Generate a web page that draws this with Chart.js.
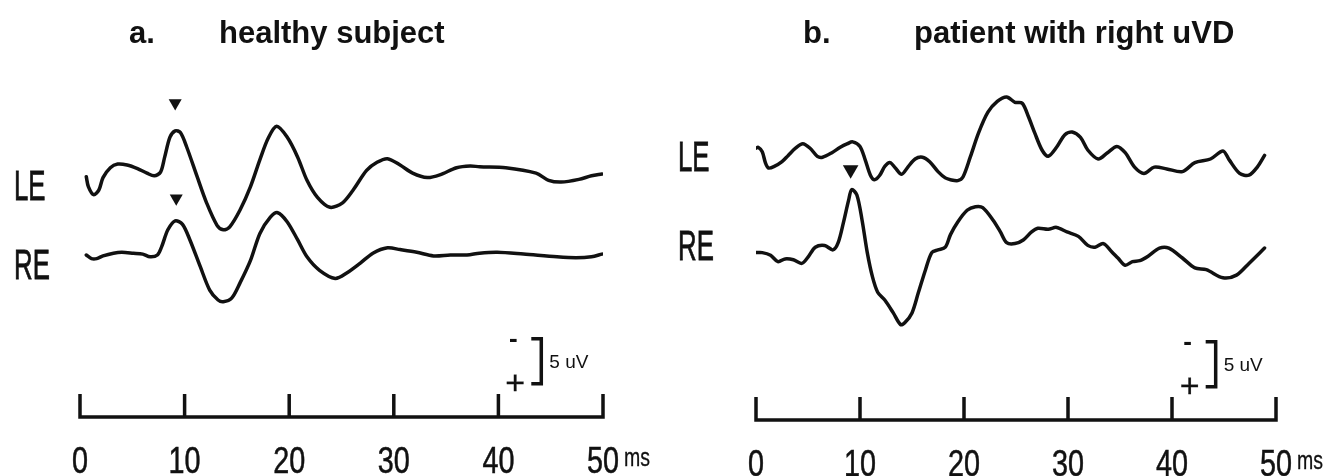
<!DOCTYPE html>
<html>
<head>
<meta charset="utf-8">
<script src="https://cdn.jsdelivr.net/npm/chart.js@4.4.0/dist/chart.umd.min.js"></script>
<style>
    html, body { margin: 0; padding: 0; background: #fff; }
    #wrap { position: relative; width: 1343px; height: 476px; overflow: hidden; }
    .panel { position: absolute; top: 0; height: 476px; }
</style>
</head>
<body>
<div id="wrap">
    <div class="panel" style="left:0;width:672px"><canvas id="chartA"></canvas></div>
    <div class="panel" style="left:672px;width:671px"><canvas id="chartB"></canvas></div>
</div>
<script>
// time axis (ms)
var tickMs = [0, 10, 20, 30, 40, 50];

// a. healthy subject, left ear / right ear (uV, negative up)
var aLE_ms = [0.6, 0.8, 1.3, 1.8, 2.2, 2.9, 3.6, 4.5, 5.5, 6.4, 7.1, 7.7, 8.1, 8.6, 9.1, 9.6, 10.2, 11.2, 12.1, 13.1, 13.7, 14.3, 15.3, 16.3, 17.2, 18.0, 18.8, 19.8, 20.8, 21.7, 22.7, 23.9, 25.1, 26.1, 27.4, 28.4, 29.4, 30.6, 31.8, 33.2, 34.4, 36.0, 37.3, 38.2, 40.7, 43.6, 44.8, 46.0, 47.7, 48.9, 49.9];
var aLE_uV = [0.3, 1.4, 2.3, 1.8, 0.4, -0.7, -1.1, -1.0, -0.6, -0.1, 0.2, -0.2, -1.9, -4.1, -4.8, -4.6, -3.0, 0.3, 3.2, 5.7, 6.2, 5.9, 4.0, 1.4, -1.6, -4.0, -5.3, -4.1, -1.9, 0.7, 2.6, 3.7, 3.2, 1.8, -0.4, -1.3, -1.7, -1.0, -0.1, 0.4, 0.1, -0.7, -0.9, -0.8, -0.7, -0.1, 0.7, 0.9, 0.6, 0.2, 0.0];
var aRE_ms = [0.6, 1.1, 1.6, 2.2, 3.2, 4.0, 5.1, 6.0, 6.7, 7.4, 7.8, 8.4, 9.1, 9.8, 10.5, 11.5, 12.4, 13.2, 13.7, 14.5, 15.3, 16.3, 17.2, 18.2, 18.9, 19.8, 20.8, 21.7, 22.9, 24.4, 25.5, 26.8, 28.0, 29.4, 30.6, 32.2, 33.8, 35.4, 37.0, 38.2, 39.9, 42.4, 45.6, 47.4, 48.9, 49.9];
var aRE_uV = [0.0, 0.4, 0.4, 0.1, -0.2, -0.3, -0.2, -0.1, 0.2, 0.0, -0.9, -2.8, -3.8, -3.4, -1.7, 1.3, 3.9, 5.0, 5.2, 4.8, 3.1, 0.6, -2.4, -4.2, -4.7, -3.7, -1.7, 0.2, 1.7, 2.6, 2.0, 0.9, -0.2, -0.8, -0.6, -0.3, 0.1, 0.0, 0.0, -0.2, -0.3, -0.1, 0.2, 0.3, 0.2, -0.1];

// b. patient with right uVD
var bLE_ms = [0.0, 0.2, 0.6, 0.9, 1.2, 1.8, 2.5, 3.1, 3.8, 4.5, 5.2, 5.9, 6.4, 7.3, 8.1, 8.8, 9.3, 10.0, 10.5, 11.0, 11.4, 11.9, 12.4, 12.9, 13.4, 14.0, 14.6, 15.3, 16.0, 16.7, 17.5, 18.2, 18.7, 19.4, 19.9, 20.6, 21.4, 22.3, 23.2, 24.1, 24.9, 25.6, 26.2, 26.8, 27.5, 28.1, 28.9, 29.7, 30.4, 31.2, 31.9, 32.9, 33.8, 34.7, 35.5, 36.4, 37.3, 38.3, 39.5, 41.0, 42.2, 43.7, 44.9, 45.5, 46.5, 47.4, 48.2, 48.9];
var bLE_uV = [-0.2, -0.3, 0.2, 1.4, 2.0, 1.8, 1.3, 0.6, -0.2, -0.7, -0.2, 0.7, 0.8, 0.3, -0.3, -0.7, -0.9, -0.4, 1.1, 2.8, 3.3, 2.8, 1.8, 1.4, 2.0, 2.7, 1.9, 1.0, 0.8, 1.3, 2.4, 3.1, 3.3, 3.4, 3.0, 0.8, -1.9, -4.2, -5.4, -5.9, -5.3, -5.2, -3.7, -1.9, 0.0, 0.7, -0.3, -1.7, -2.0, -1.4, 0.0, 1.0, 0.3, -0.4, 0.3, 1.9, 2.6, 1.9, 2.1, 2.4, 1.4, 1.0, 0.1, 1.1, 2.6, 2.8, 1.9, 0.6];
var bRE_ms = [0.0, 0.6, 1.4, 2.1, 2.8, 3.6, 4.4, 5.0, 5.7, 6.6, 7.4, 7.9, 8.4, 8.9, 9.2, 9.7, 10.2, 10.7, 11.2, 11.7, 12.4, 13.2, 13.9, 14.3, 15.0, 15.6, 16.3, 16.9, 17.5, 18.2, 18.7, 19.4, 20.3, 21.1, 21.8, 22.8, 23.5, 24.1, 24.9, 25.7, 26.5, 27.1, 28.1, 28.9, 29.9, 31.0, 31.9, 32.6, 33.4, 34.2, 34.8, 35.5, 36.2, 36.9, 37.7, 38.8, 39.7, 41.0, 42.2, 43.3, 44.9, 46.2, 47.4, 48.9];
var bRE_uV = [0.4, 0.4, 0.7, 1.4, 1.1, 1.2, 1.6, 0.9, -0.2, -0.4, 0.1, -0.7, -2.9, -5.4, -6.6, -6.0, -3.2, 0.4, 3.1, 4.8, 5.7, 7.1, 8.4, 8.2, 7.1, 4.9, 2.3, 0.4, 0.1, -0.2, -1.6, -3.0, -4.3, -4.7, -4.6, -3.2, -1.9, -0.7, -0.6, -1.0, -1.9, -2.3, -2.2, -2.4, -1.9, -1.4, -0.4, -0.2, -0.6, 0.3, 1.0, 1.8, 1.4, 1.3, 0.8, -0.1, -0.1, 1.0, 2.1, 2.3, 3.2, 2.9, 1.6, -0.1];

// trace baselines on the shared uV axis
var aOffsets = [-11, -2];   // LE, RE
var bOffsets = [-14, -3];

// peak markers (latency ms, uV relative to trace)
var aMarkMs = [9.1, 9.2];
var aMarkUV = [-7.9, -6.3];
var bMarkMs = [9.1];
var bMarkUV = [-8.8];     // on RE trace

var scaleBarUV = 5;
var ink = '#111';

function trace(ms, uv, offset) {
    return ms.map(function (t, i) { return { x: t, y: uv[i] + offset }; });
}

function drawText(ctx, text, x, y, font, sx, align, weight) {
    ctx.save();
    ctx.translate(x, y);
    ctx.scale(sx, 1);
    ctx.font = font;
    ctx.textAlign = align || 'left';
    ctx.textBaseline = 'alphabetic';
    ctx.fillText(text, 0, 0);
    if (weight) {
        ctx.lineWidth = weight;
        ctx.strokeText(text, 0, 0);
    }
    ctx.restore();
}

var panelDecor = {
    id: 'panelDecor',
    afterDatasetsDraw: function (chart, args, opts) {
        var ctx = chart.ctx;
        var xs = chart.scales.x, ys = chart.scales.y;
        var base = chart.chartArea.bottom;
        var sans = '"Liberation Sans", Arial, sans-serif';
        ctx.save();
        ctx.strokeStyle = ink;
        ctx.fillStyle = ink;
        ctx.lineWidth = 3.5;

        // time bar with upward ticks
        ctx.beginPath();
        ctx.moveTo(xs.getPixelForValue(tickMs[0]) - 1.75, base);
        ctx.lineTo(xs.getPixelForValue(tickMs[tickMs.length - 1]) + 1.75, base);
        tickMs.forEach(function (t) {
            var px = xs.getPixelForValue(t);
            ctx.moveTo(px, base + 1.75);
            ctx.lineTo(px, base - 23);
        });
        ctx.stroke();
        tickMs.forEach(function (t) {
            drawText(ctx, String(t), xs.getPixelForValue(t), base + 56, '36px ' + sans, 0.8, 'center', 0.5);
        });
        drawText(ctx, 'ms', xs.getPixelForValue(50) + 21, base + 49, '25px ' + sans, 0.78, 'left', 0.3);

        // 5 uV calibration bracket
        var bx = xs.getPixelForValue(opts.barMs);
        var by0 = ys.getPixelForValue(opts.barTop);
        var by1 = ys.getPixelForValue(opts.barTop + scaleBarUV);
        ctx.lineWidth = 3.5;
        ctx.beginPath();
        ctx.moveTo(bx - 10, by0);
        ctx.lineTo(bx, by0);
        ctx.lineTo(bx, by1);
        ctx.lineTo(bx - 10, by1);
        ctx.stroke();
        drawText(ctx, '-', bx - 28, by0 + 8, 'bold 26px ' + sans, 1, 'center');
        drawText(ctx, '+', bx - 26, by1 + 10, '34px ' + sans, 1, 'center', 0.3);
        drawText(ctx, '5 uV', bx + 8, (by0 + by1) / 2 + 7, '19px ' + sans, 1, 'left');

        // titles and row labels
        var tf = 'bold 31px ' + sans;
        drawText(ctx, opts.letter, opts.letterX, 43, tf, 1, 'left');
        drawText(ctx, opts.title, opts.titleX, 43, tf, 1, 'left');
        opts.rows.forEach(function (r) {
            drawText(ctx, r.text, opts.rowX, r.y + 15, '43px ' + sans, 0.6, 'left', 0.8);
        });
        ctx.restore();
    }
};

function lineSet(data) {
    return {
        data: data,
        borderColor: ink,
        borderWidth: 3.5,
        tension: 0.3,
        pointRadius: 0,
        fill: false,
        borderJoinStyle: 'round',
        borderCapStyle: 'round'
    };
}

function markSet(ms, uv, offsets, radius) {
    return {
        type: 'scatter',
        data: ms.map(function (t, i) { return { x: t, y: uv[i] + offsets[i] }; }),
        showLine: false,
        pointStyle: 'triangle',
        rotation: 180,
        pointRadius: radius,
        backgroundColor: ink,
        borderWidth: 0
    };
}

function options(pad, decor) {
    return {
        responsive: true,
        maintainAspectRatio: false,
        animation: false,
        events: [],
        layout: { padding: pad },
        scales: {
            x: { type: 'linear', min: 0, max: 50, display: false },
            y: { type: 'linear', min: -24, max: 16, reverse: true, display: false }
        },
        plugins: {
            legend: { display: false },
            tooltip: { enabled: false },
            panelDecor: decor
        }
    };
}

new Chart(document.getElementById('chartA'), {
    type: 'line',
    data: {
        datasets: [
            lineSet(trace(aLE_ms, aLE_uV, aOffsets[0])),
            lineSet(trace(aRE_ms, aRE_uV, aOffsets[1])),
            markSet(aMarkMs, aMarkUV, aOffsets, 7.5)
        ]
    },
    options: options({ left: 80, right: 69, top: 57, bottom: 59 }, {
        letter: 'a.', letterX: 129, title: 'healthy subject', titleX: 219,
        rowX: 14, rows: [{ text: 'LE', y: 185 }, { text: 'RE', y: 264 }],
        barMs: 44.1, barTop: 7.3
    }),
    plugins: [panelDecor]
});

new Chart(document.getElementById('chartB'), {
    type: 'line',
    data: {
        datasets: [
            lineSet(trace(bLE_ms, bLE_uV, bOffsets[0])),
            lineSet(trace(bRE_ms, bRE_uV, bOffsets[1])),
            markSet(bMarkMs, bMarkUV, [bOffsets[1]], 9)
        ]
    },
    options: options({ left: 84, right: 67, top: 60, bottom: 56 }, {
        letter: 'b.', letterX: 131, title: 'patient with right uVD', titleX: 242,
        rowX: 6, rows: [{ text: 'LE', y: 156 }, { text: 'RE', y: 245 }],
        barMs: 44.2, barTop: 7.3
    }),
    plugins: [panelDecor]
});
</script>
</body>
</html>
